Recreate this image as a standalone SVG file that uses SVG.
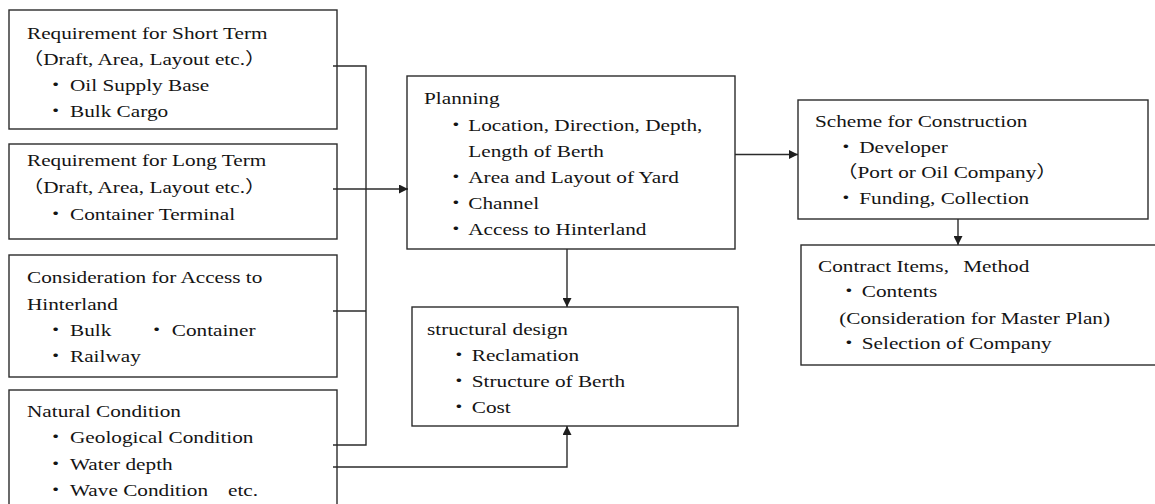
<svg xmlns="http://www.w3.org/2000/svg" width="1155" height="504" viewBox="0 0 1155 504">
  <style>
    .box { fill: #ffffff; stroke: #2b2b2b; stroke-width: 1.4; }
    .t { font-family: "Liberation Serif", "Noto Sans CJK JP", serif; font-size: 17px; fill: #141414; }
    .link { fill: none; stroke: #2b2b2b; stroke-width: 1.4; }
  </style>
  <defs>
    <marker id="arrow" viewBox="0 0 10 10" refX="10" refY="5" markerUnits="userSpaceOnUse" markerWidth="9" markerHeight="9" orient="auto">
      <path d="M0,0 L10,5 L0,10 z" fill="#1e1e1e"/>
    </marker>
  </defs>

  <rect width="1155" height="504" fill="#ffffff"/>

  <!-- text blocks are set in a widened serif: translate to the block origin, stretch 1.25 horizontally -->

  <!-- input: short term requirement -->
  <g id="short-term">
    <rect class="box" x="9" y="10" width="328" height="119"/>
    <g transform="translate(27,0) scale(1.25,1)">
      <text class="t" x="0" y="39">Requirement for Short Term</text>
      <text class="t" x="-4" y="65.5">（Draft, Area, Layout etc.）</text>
      <text class="t" y="91.5"><tspan x="14.4">・</tspan><tspan x="34.4">Oil Supply Base</tspan></text>
      <text class="t" y="117.5"><tspan x="14.4">・</tspan><tspan x="34.4">Bulk Cargo</tspan></text>
    </g>
  </g>

  <!-- input: long term requirement -->
  <g id="long-term">
    <rect class="box" x="9" y="144" width="328" height="95"/>
    <g transform="translate(27,0) scale(1.25,1)">
      <text class="t" x="0" y="166.5">Requirement for Long Term</text>
      <text class="t" x="-4" y="193">（Draft, Area, Layout etc.）</text>
      <text class="t" y="220"><tspan x="14.4">・</tspan><tspan x="34.4">Container Terminal</tspan></text>
    </g>
  </g>

  <!-- input: hinterland access -->
  <g id="hinterland">
    <rect class="box" x="9" y="255" width="328" height="122"/>
    <g transform="translate(27,0) scale(1.25,1)">
      <text class="t" x="0" y="283.5">Consideration for Access to</text>
      <text class="t" x="0" y="310">Hinterland</text>
      <text class="t" y="336"><tspan x="14.4">・</tspan><tspan x="34.4">Bulk</tspan><tspan x="95.2">・</tspan><tspan x="115.8">Container</tspan></text>
      <text class="t" y="362"><tspan x="14.4">・</tspan><tspan x="34.4">Railway</tspan></text>
    </g>
  </g>

  <!-- input: natural condition -->
  <g id="natural">
    <rect class="box" x="9" y="390" width="328" height="130"/>
    <g transform="translate(27,0) scale(1.25,1)">
      <text class="t" x="0" y="417">Natural Condition</text>
      <text class="t" y="443.5"><tspan x="14.4">・</tspan><tspan x="34.4">Geological Condition</tspan></text>
      <text class="t" y="470"><tspan x="14.4">・</tspan><tspan x="34.4">Water depth</tspan></text>
      <text class="t" y="496"><tspan x="14.4">・</tspan><tspan x="34.4">Wave Condition</tspan><tspan x="160.8">etc.</tspan></text>
    </g>
  </g>

  <!-- planning -->
  <g id="planning">
    <rect class="box" x="407" y="76" width="328" height="173"/>
    <g transform="translate(424,0) scale(1.25,1)">
      <text class="t" x="0" y="104.5">Planning</text>
      <text class="t" y="131.5"><tspan x="17.1">・</tspan><tspan x="35.4">Location, Direction, Depth,</tspan></text>
      <text class="t" x="35.4" y="157">Length of Berth</text>
      <text class="t" y="183.5"><tspan x="17.1">・</tspan><tspan x="35.4">Area and Layout of Yard</tspan></text>
      <text class="t" y="209.5"><tspan x="17.1">・</tspan><tspan x="35.4">Channel</tspan></text>
      <text class="t" y="235.5"><tspan x="17.1">・</tspan><tspan x="35.4">Access to Hinterland</tspan></text>
    </g>
  </g>

  <!-- structural design -->
  <g id="structural">
    <rect class="box" x="412" y="307" width="326" height="119"/>
    <g transform="translate(427,0) scale(1.25,1)">
      <text class="t" x="0" y="335">structural design</text>
      <text class="t" y="361"><tspan x="17.1">・</tspan><tspan x="35.8">Reclamation</tspan></text>
      <text class="t" y="387.5"><tspan x="17.1">・</tspan><tspan x="35.8">Structure of Berth</tspan></text>
      <text class="t" y="413.5"><tspan x="17.1">・</tspan><tspan x="35.8">Cost</tspan></text>
    </g>
  </g>

  <!-- construction scheme -->
  <g id="scheme">
    <rect class="box" x="798" y="100" width="350" height="119"/>
    <g transform="translate(815,0) scale(1.25,1)">
      <text class="t" x="0" y="127.5">Scheme for Construction</text>
      <text class="t" y="153.5"><tspan x="16.3">・</tspan><tspan x="35.4">Developer</tspan></text>
      <text class="t" x="17" y="178.5">（Port or Oil Company）</text>
      <text class="t" y="204.5"><tspan x="16.3">・</tspan><tspan x="35.4">Funding, Collection</tspan></text>
    </g>
  </g>

  <!-- contract -->
  <g id="contract">
    <rect class="box" x="801" y="245" width="370" height="120"/>
    <g transform="translate(818,0) scale(1.25,1)">
      <text class="t" y="272"><tspan x="0">Contract Items,</tspan><tspan x="116.2">Method</tspan></text>
      <text class="t" y="297.5"><tspan x="16.3">・</tspan><tspan x="35">Contents</tspan></text>
      <text class="t" x="17" y="324.5">(Consideration for Master Plan)</text>
      <text class="t" y="349.5"><tspan x="16.3">・</tspan><tspan x="35">Selection of Company</tspan></text>
    </g>
  </g>

  <!-- connectors -->
  <g id="connectors">
    <path class="link" d="M333,66 H366 V445 H333"/>
    <path class="link" d="M333,311 H366"/>
    <path class="link" d="M333,189 H408" marker-end="url(#arrow)"/>
    <path class="link" d="M735,154.5 H798" marker-end="url(#arrow)"/>
    <path class="link" d="M567,249 V307" marker-end="url(#arrow)"/>
    <path class="link" d="M958,219 V245" marker-end="url(#arrow)"/>
    <path class="link" d="M333,467 H567 V426" marker-end="url(#arrow)"/>
  </g>
</svg>
